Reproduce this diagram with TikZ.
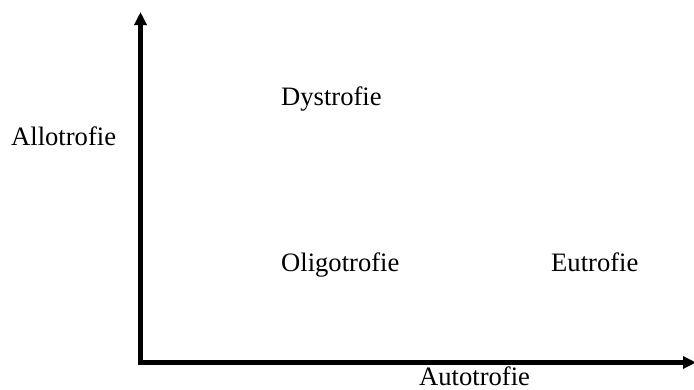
\documentclass[tikz,border=0pt]{standalone}
\usepackage{fontspec}
\setmainfont{Liberation Serif}
\usetikzlibrary{arrows.meta}
\begin{document}
\begin{tikzpicture}[x=1pt,y=-1pt,
  lbl/.style={anchor=base west,inner sep=0pt,font=\fontsize{26.6}{30}\selectfont},
  axis/.style={line width=5pt,-{Triangle[length=13pt,width=12pt]}}]
\useasboundingbox (0,0) rectangle (694,389);
\coordinate (O) at (140.5,362.5);
\coordinate (top) at (140.5,12);
\coordinate (right) at (696,362.5);
\draw[axis] ([yshift=-2.5pt]O) -- (top);
\draw[axis] ([xshift=-2.5pt]O) -- (right);
\node[lbl] (allo) at (11,145) {Allotrofie};
\node[lbl] (dys) at (281,105) {Dystrofie};
\node[lbl] (oligo) at (281,271) {Oligotrofie};
\node[lbl] (eu) at (551,271) {Eutrofie};
\node[lbl] (auto) at (419,385.5) {Autotrofie};
\end{tikzpicture}
\end{document}
